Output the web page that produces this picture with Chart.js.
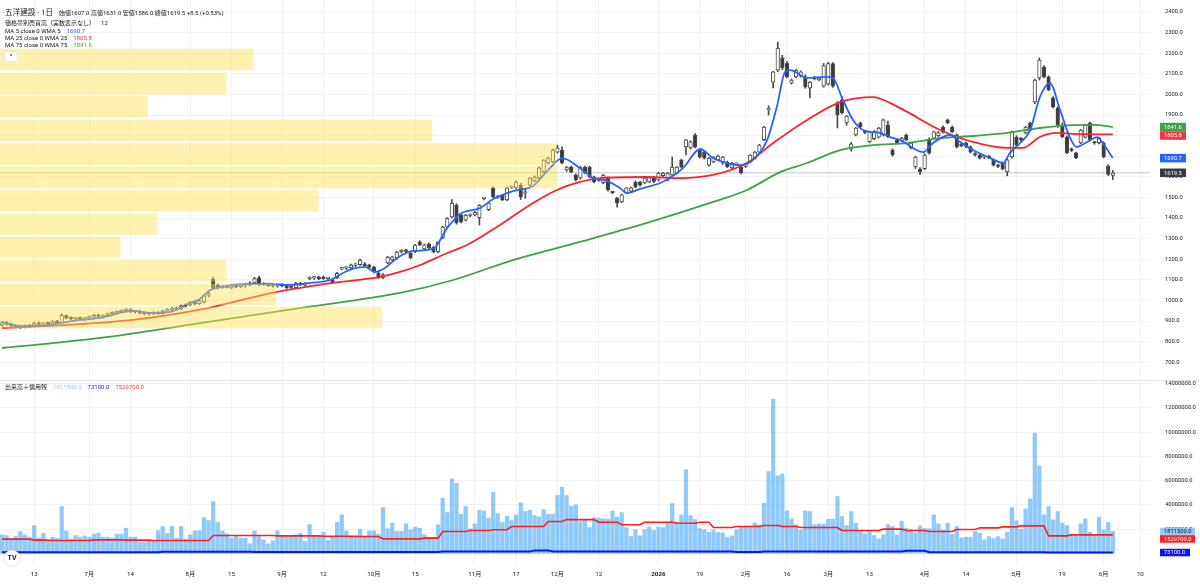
<!DOCTYPE html>
<html lang="ja">
<head>
<meta charset="utf-8">
<script src="https://cdn.jsdelivr.net/npm/chart.js@4.4.1/dist/chart.umd.min.js"></script>
<style>
  html, body { margin: 0; padding: 0; background: #fff; }
  #wrap { position: relative; width: 1200px; height: 584px; overflow: hidden;
          font-family: Roboto, "Noto Sans CJK JP", sans-serif; color: #131722; }
  #main { position: absolute; left: 0; top: 0; }
  #profile { position: absolute; left: 0; top: 0; pointer-events: none; }
  .lg { position: absolute; left: 5px; white-space: nowrap; font-size: 6px; line-height: 8px; }
  .lg .v { margin-left: 6px; }
  #title { font-size: 7.6px; line-height: 9px; margin-right: 6px; }
  #collapse { position: absolute; left: 4px; top: 51px; width: 12px; height: 9px; background: #fff;
              border: 1px solid #e0e3eb; border-radius: 2px; font-size: 7px; line-height: 11px;
              text-align: center; color: #333; }
  #tv { position: absolute; left: 4px; top: 550px; width: 16px; height: 16px; border-radius: 8px; background: #fff;
        box-shadow: 0 0 2px rgba(0,0,0,0.25); font: bold 7px Roboto, sans-serif; line-height: 16px; text-align: center; color: #131722; }
</style>
</head>
<body>
<div id="wrap">
  <canvas id="main" width="1200" height="584"></canvas>
  <canvas id="profile" width="1150" height="380"></canvas>
  <div class="lg" style="top:8px;line-height:9px"><span id="title">五洋建設 · 1日</span><span id="ohlc"></span></div>
  <div class="lg" style="top:19px">価格帯別売買高（実数表示なし）<span class="v">12</span></div>
  <div class="lg" style="top:27px">MA 5 close 0 WMA 5<span class="v" id="v5" style="color:#2962ff"></span></div>
  <div class="lg" style="top:34px">MA 25 close 0 WMA 25<span class="v" id="v25" style="color:#f23645"></span></div>
  <div class="lg" style="top:41px">MA 75 close 0 WMA 75<span class="v" id="v75" style="color:#43a047"></span></div>
  <div id="collapse">^</div>
  <div class="lg" style="top:383px">出来高＋信用残<span class="v" id="vVol" style="color:#90caf9"></span><span class="v" id="vSell" style="color:#1a1aff"></span><span class="v" id="vBuy" style="color:#f23645"></span></div>
  <div id="tv">TV</div>
</div>
<script>
// daily candles, Jun 2025 - Jun 2026 (243 sessions)
const openP = [
  880,892,884,876,870,874,871,880,890,884, 889,886,897,892,928,914,910,913,909,915,
  918,927,922,926,935,940,945,950,955,944, 948,938,936,934,941,935,949,956,962,957,
  974,978,991,984,992,1024,1105,1075,1062,1066, 1060,1072,1067,1070,1074,1085,1109,1077,1080,1072,
  1070,1074,1075,1064,1062,1084,1074,1105,1108,1114, 1112,1106,1100,1110,1152,1156,1158,1170,1174,1178,
  1172,1162,1133,1112,1182,1196,1206,1236,1240,1230, 1236,1284,1250,1274,1258,1236,1304,1357,1405,1462,
  1414,1390,1412,1415,1402,1494,1440,1546,1502,1510, 1488,1548,1546,1560,1520,1560,1580,1594,1624,1667,
  1672,1720,1730,1633,1647,1609,1594,1647,1647,1599, 1582,1572,1594,1526,1497,1478,1522,1530,1575,1575,
  1570,1575,1599,1584,1605,1584,1609,1618,1681,1745, 1740,1803,1730,1720,1657,1672,1682,1667,1672,1643,
  1660,1647,1650,1672,1690,1720,1780,1925,2060,2118, 2177,2152,2055,2085,2088,2085,2030,2080,2070,2040,
  2050,2150,1958,1973,1861,1735,1803,1861,1818,1770, 1785,1793,1803,1851,1730,1779,1776,1803,1740,1648,
  1638,1640,1779,1788,1800,1842,1876,1842,1803,1760, 1764,1745,1710,1706,1695,1700,1681,1652,1667,1624,
  1696,1793,1780,1813,1861,1963,2080,2133,2085,1983, 1934,1851,1793,1732,1716,1764,1793,1861,1766,1766,
  1764,1652,1607
];
const highP = [
  897,898,890,882,880,882,884,895,896,893, 895,902,903,935,930,920,918,920,918,924,
  932,934,930,938,945,948,955,960,960,952, 953,944,942,945,946,952,960,966,968,978,
  983,995,996,1002,1028,1040,1113,1080,1072,1074, 1076,1078,1075,1080,1090,1112,1118,1086,1084,1080,
  1078,1080,1078,1070,1088,1088,1086,1114,1116,1118, 1118,1112,1106,1136,1162,1164,1176,1180,1200,1184,
  1176,1166,1138,1130,1214,1215,1238,1246,1248,1236, 1272,1290,1274,1280,1262,1286,1360,1402,1490,1470,
  1420,1418,1420,1432,1465,1500,1476,1552,1508,1515, 1550,1556,1580,1568,1545,1596,1605,1648,1684,1695,
  1735,1754,1745,1650,1652,1614,1650,1652,1652,1604, 1590,1612,1600,1530,1500,1515,1548,1550,1580,1578,
  1598,1600,1602,1622,1622,1622,1696,1650,1686,1782, 1775,1810,1735,1725,1695,1698,1705,1700,1676,1670,
  1668,1652,1666,1708,1724,1758,1845,1945,2112,2254, 2190,2160,2075,2122,2114,2095,2064,2088,2084,2150,
  2156,2155,1965,1990,1898,1768,1840,1866,1826,1820, 1825,1840,1880,1870,1736,1784,1792,1808,1768,1700,
  1645,1712,1790,1822,1820,1848,1880,1846,1808,1765, 1770,1750,1718,1712,1704,1704,1686,1660,1672,1686,
  1822,1800,1790,1846,1866,2075,2177,2140,2090,1990, 1940,1862,1798,1740,1720,1830,1855,1866,1772,1792,
  1770,1658,1631
];
const lowP = [
  875,880,872,866,864,866,868,876,880,878, 880,882,888,890,910,906,904,905,903,910,
  914,918,915,922,930,933,940,944,940,938, 935,930,928,930,932,933,945,950,952,955,
  966,975,978,980,988,1018,1055,1055,1058,1060, 1057,1062,1062,1064,1070,1082,1072,1072,1068,1064,
  1064,1066,1058,1058,1058,1072,1070,1100,1102,1100, 1102,1100,1082,1106,1148,1150,1154,1164,1170,1165,
  1155,1134,1106,1106,1178,1192,1200,1230,1232,1202, 1232,1265,1245,1250,1230,1230,1300,1352,1400,1370,
  1376,1385,1405,1410,1366,1488,1436,1498,1495,1484, 1484,1544,1540,1490,1495,1555,1575,1590,1620,1662,
  1668,1715,1662,1626,1620,1580,1588,1615,1595,1570, 1578,1566,1530,1518,1453,1474,1518,1526,1546,1555,
  1566,1572,1572,1580,1600,1580,1605,1614,1643,1706, 1735,1740,1690,1686,1652,1668,1678,1660,1645,1638,
  1655,1614,1645,1668,1686,1716,1775,1900,2031,2110, 2120,2080,2050,2080,2084,2030,1983,2070,2066,2035,
  2045,2034,1837,1905,1850,1725,1798,1838,1810,1765, 1780,1788,1798,1790,1700,1760,1770,1775,1735,1640,
  1610,1635,1710,1784,1795,1812,1858,1815,1740,1745, 1742,1716,1700,1686,1688,1688,1652,1644,1634,1605,
  1690,1750,1772,1808,1822,1955,2070,2080,2018,1935, 1840,1790,1712,1722,1688,1760,1788,1775,1758,1760,
  1692,1606,1586
];
const closeP = [
  892,884,876,870,874,871,880,890,884,889, 886,897,892,928,914,910,913,909,915,918,
  927,922,926,935,940,945,950,955,944,948, 938,936,934,941,935,949,956,962,957,974,
  978,991,984,998,1024,1032,1062,1060,1066,1063, 1072,1067,1070,1074,1085,1106,1077,1080,1072,1070,
  1074,1070,1062,1063,1084,1076,1082,1109,1110,1104, 1106,1108,1086,1132,1157,1158,1172,1176,1196,1168,
  1160,1138,1110,1124,1210,1211,1234,1240,1238,1206, 1268,1270,1270,1255,1236,1282,1356,1398,1472,1377,
  1381,1414,1414,1428,1462,1497,1472,1503,1500,1488, 1546,1551,1575,1503,1523,1594,1599,1643,1681,1691,
  1730,1740,1667,1647,1623,1585,1647,1620,1599,1575, 1584,1608,1536,1522,1473,1512,1546,1546,1550,1560,
  1594,1596,1578,1618,1618,1618,1647,1647,1647,1779, 1770,1745,1696,1691,1691,1696,1701,1696,1648,1667,
  1662,1620,1662,1705,1720,1754,1842,1932,2109,2225, 2128,2085,2070,2118,2110,2036,2060,2076,2080,2140,
  2150,2040,1900,1910,1895,1760,1837,1842,1816,1817, 1820,1837,1876,1795,1706,1764,1788,1779,1764,1696,
  1624,1706,1716,1818,1815,1817,1861,1818,1745,1750, 1747,1720,1706,1691,1698,1692,1657,1650,1638,1682,
  1818,1754,1779,1842,1827,2070,2167,2085,2022,1939, 1851,1795,1716,1728,1692,1827,1851,1779,1764,1788,
  1696,1611,1619.5
];
// volume in millions of shares
const volume = [
  1.53,1.48,1.26,1.39,1.81,1.53,1.34,2.30,1.26,1.67, 1.00,1.34,1.26,3.87,1.86,1.18,1.48,1.34,1.45,1.34,
  1.59,1.67,1.34,1.34,1.26,1.59,1.59,2.08,1.34,1.34, 0.90,0.90,0.98,1.07,1.89,2.22,1.64,2.22,1.26,2.22,
  1.18,1.53,1.86,1.89,2.96,2.71,4.28,2.55,1.86,1.61, 1.26,1.48,1.26,1.26,0.79,1.86,1.39,1.12,0.79,1.04,
  1.86,1.39,1.39,1.39,1.53,1.67,0.98,2.38,1.48,1.48, 1.75,1.07,1.39,2.55,3.18,1.86,1.48,1.48,2.00,1.39,
  1.86,1.86,1.59,3.78,2.03,2.49,1.81,1.81,2.44,1.95, 2.17,2.08,1.53,1.34,1.34,2.36,4.55,3.37,6.15,5.78,
  3.23,3.87,2.03,2.44,3.56,3.51,2.91,5.05,3.29,2.55, 3.07,2.71,3.18,4.19,3.45,3.56,3.12,3.01,3.62,3.23,
  3.23,4.77,5.46,4.77,3.89,4.00,2.63,2.82,2.14,2.96, 2.91,2.85,2.82,3.48,2.99,3.37,2.14,1.39,1.97,1.45,
  1.97,2.19,1.89,2.19,2.14,2.55,4.11,2.60,3.18,6.91, 3.12,2.79,2.05,1.95,1.75,1.95,1.73,1.70,1.34,1.45,
  1.95,2.14,2.19,2.19,2.52,2.36,4.14,6.75,12.71,6.39, 6.55,3.51,2.85,2.36,1.94,3.51,3.45,2.36,2.44,2.41,
  2.82,2.82,4.69,3.04,2.30,3.45,2.49,1.81,1.61,1.86, 1.48,1.20,1.53,2.38,2.22,1.53,2.66,2.08,1.97,1.70,
  2.27,2.05,2.03,3.18,2.44,1.92,2.49,1.59,2.22,1.28, 1.34,1.34,1.81,1.67,1.12,1.39,1.23,1.39,1.20,1.75,
  3.78,2.69,2.00,3.67,4.50,9.91,7.22,3.18,3.87,2.77, 3.45,2.49,2.30,1.61,1.53,2.44,2.85,1.75,1.50,2.99,
  1.94,2.55,1.8115
];
// margin balances (millions), [first session, value] weekly steps
const marginBuy = [
  [0,1.18],[7,1.10],[11,1.07],[20,1.12],[27,1.10],[33,1.07],[46,1.48],[60,1.45],[70,1.42],[76,1.39],
  [83,1.20],[92,1.26],[96,1.81],[102,1.89],[107,1.95],[111,2.22],[119,2.63],[123,2.79],[130,2.57],[135,2.36],
  [140,2.57],[147,2.49],[152,2.57],[155,2.14],[160,2.22],[166,2.30],[170,2.22],[174,2.14],[183,1.89],[192,2.00],
  [197,1.89],[202,1.81],[208,1.97],[213,2.11],[218,2.19],[222,2.27],[228,1.45],[233,1.5297]
];
const marginSell = [
  [0,0.10],[35,0.13],[55,0.11],[96,0.15],[116,0.25],[120,0.16],[160,0.12],[166,0.16],[197,0.22],[202,0.10],
  [228,0.08],[233,0.0731]
];
// weighted moving averages, [session, price]
const ma5 = [
  [0,895],[3.9,876],[8.3,876],[12.6,890],[17,905],[21.4,915],[28.5,949],[32.2,939],[36.6,944],[41,988],
  [43.1,1007],[45.3,1050],[47.5,1065],[54,1080],[58.4,1080],[62.7,1075],[67.1,1085],[71.5,1099],[74.7,1138],[76.9,1157],
  [79.1,1162],[81.3,1138],[83.4,1157],[86.1,1206],[89.5,1240],[93.9,1250],[97,1352],[99.8,1420],[104.1,1448],[107,1492],
  [111.3,1531],[115.7,1555],[117.2,1589],[119.4,1643],[122,1691],[125.9,1643],[128.8,1594],[131.8,1580],[134.6,1546],[136.2,1521],
  [139,1541],[143.4,1570],[145.5,1594],[148.4,1643],[152.1,1735],[154.9,1691],[157.9,1667],[160.8,1657],[163.6,1682],[166.7,1779],
  [168.8,1940],[170.6,2109],[171.7,2118],[175.4,2080],[179.7,2085],[181,2080],[183.2,1973],[185.4,1876],[187.6,1827],[191.3,1813],
  [193.5,1793],[195.6,1779],[200.7,1720],[202.8,1764],[206.5,1803],[208.7,1769],[211.5,1730],[215.3,1691],[218.1,1667],[219.6,1716],
  [221.8,1764],[224,1827],[226.1,1987],[228.3,2055],[230.5,1925],[232.6,1793],[234.1,1745],[236.4,1769],[238.6,1793],[239.8,1764],
  [242,1690.7]
];
const ma25 = [
  [0,866],[14.2,881],[28.5,905],[43.1,955],[51,995],[59.9,1041],[72.1,1085],[82.4,1114],[86.7,1138],[91.1,1172],
  [97,1230],[101.3,1269],[108.5,1366],[115.7,1473],[120.9,1536],[125.9,1575],[130.3,1594],[140.5,1599],[147.7,1594],[154.9,1609],
  [162.3,1667],[168,1764],[175.4,1876],[182.6,1963],[189.8,1987],[193.5,1958],[197.2,1915],[204.4,1827],[211.5,1769],[219,1740],
  [222.4,1740],[226.1,1793],[229.8,1813],[233.3,1808],[242,1805.8]
];
const ma75 = [
  [0,769],[21.4,818],[43.1,890],[64.9,963],[86.7,1036],[98.3,1099],[111.3,1196],[125.9,1284],[140.5,1376],[154.9,1478],
  [162.3,1536],[169.5,1623],[175.4,1667],[182.6,1730],[189.8,1754],[197.2,1764],[204.4,1788],[211.5,1798],[219,1813],[226.1,1837],
  [233.3,1851],[238,1852],[242,1841.6]
];
// volume profile: 12 price rows (centre price, relative volume)
const profileLevels = [917, 1030, 1143, 1257, 1371, 1484, 1597, 1710, 1825, 1941, 2053, 2169];
const profileVolume = [58.4, 42.2, 34.6, 18.4, 24.0, 48.7, 85.2, 85.1, 66.1, 22.6, 34.6, 38.7];
// axis ticks
const tickIndex = [7, 19, 28, 41, 50, 61, 70, 81, 90, 103, 112, 121, 130, 143, 152, 162, 171, 180, 189, 201, 210, 221, 231, 240, 248];
const tickText = ['13','7月','14','8月','15','9月','12','10月','15','11月','17','12月','12','2026','19','2月','16','3月','13','4月','14','5月','19','6月','10'];
const priceTicks = [700,800,900,1000,1100,1200,1300,1400,1500,1600,1700,1800,1900,2000,2100,2200,2300,2400];
const volumeTicks = [2,4,6,8,10,12,14];

const FONT = 'Roboto, "Noto Sans CJK JP", sans-serif';
Chart.defaults.font.family = FONT;
Chart.defaults.color = '#131722';

const N = closeP.length;
const idx = closeP.map((_, i) => i);
const last = closeP[N - 1];
const prevClose = closeP[N - 2];
const EDGE = '#4a4a4a';
const GRID = '#f1f2f5';

const pts = arr => arr.map(([x, y]) => ({ x, y }));
function expandSteps(steps) {
    return idx.map(i => {
        let v = steps[0][1];
        for (const [s, val] of steps) if (s <= i) v = val;
        return { x: i, y: v };
    });
}

// legend text
const chg = last - prevClose;
document.getElementById('ohlc').textContent =
    `始値${openP[N-1].toFixed(1)} 高値${highP[N-1].toFixed(1)} 安値${lowP[N-1].toFixed(1)} 終値${last.toFixed(1)} ` +
    `+${chg.toFixed(1)} (+${(chg / prevClose * 100).toFixed(2)}%)`;
document.getElementById('v5').textContent = ma5[ma5.length-1][1].toFixed(1);
document.getElementById('v25').textContent = ma25[ma25.length-1][1].toFixed(1);
document.getElementById('v75').textContent = ma75[ma75.length-1][1].toFixed(1);
document.getElementById('vVol').textContent = (volume[N-1] * 1e6).toFixed(1);
document.getElementById('vSell').textContent = (marginSell[marginSell.length-1][1] * 1e6).toFixed(1);
document.getElementById('vBuy').textContent = (marginBuy[marginBuy.length-1][1] * 1e6).toFixed(1);

function drawBadges(ctx, scale, items, h) {
    let prevBottom = -Infinity;
    items.map(it => ({ ...it, y: scale.getPixelForValue(it.v) }))
        .sort((a, b) => a.y - b.y)
        .forEach(it => {
            const top = Math.max(it.y - h / 2, prevBottom);
            ctx.fillStyle = it.bg;
            ctx.fillRect(1160, top, it.w, h);
            ctx.fillStyle = it.fg;
            ctx.font = '5.8px ' + FONT;
            ctx.textBaseline = 'middle';
            ctx.textAlign = 'left';
            ctx.fillText(it.t, 1164, top + h / 2 + 0.3);
            prevBottom = top + h;
        });
}

const panePlugin = {
    id: 'panes',
    afterDraw(chart) {
        const ctx = chart.ctx;
        const y = chart.scales.y, yv = chart.scales.yv;
        ctx.save();
        ctx.strokeStyle = '#e0e3eb';
        ctx.lineWidth = 1;
        ctx.beginPath();
        ctx.moveTo(0, Math.round(y.bottom) + 0.5);
        ctx.lineTo(1200, Math.round(y.bottom) + 0.5);
        ctx.stroke();
        const m75 = ma75[ma75.length-1][1], m25 = ma25[ma25.length-1][1], m5 = ma5[ma5.length-1][1];
        drawBadges(ctx, y, [
            { v: m75, t: m75.toFixed(1), bg: '#43a047', fg: '#fff', w: 26 },
            { v: m25, t: m25.toFixed(1), bg: '#f23645', fg: '#fff', w: 26 },
            { v: m5, t: m5.toFixed(1), bg: '#2962ff', fg: '#fff', w: 26 },
            { v: last, t: last.toFixed(1), bg: '#363a45', fg: '#fff', w: 26 }
        ], 8.5);
        const vb = marginBuy[marginBuy.length-1][1], vs = marginSell[marginSell.length-1][1];
        drawBadges(ctx, yv, [
            { v: volume[N-1], t: (volume[N-1] * 1e6).toFixed(1), bg: '#90caf9', fg: '#131722', w: 35 },
            { v: vb, t: (vb * 1e6).toFixed(1), bg: '#ff1f1f', fg: '#fff', w: 35 },
            { v: vs, t: (vs * 1e6).toFixed(1), bg: '#1010ff', fg: '#fff', w: 30 }
        ], 7.5);
        ctx.restore();
    }
};

const fitRight = s => { s.width = 50; s.paddingTop = 0; s.paddingBottom = 0; };

new Chart(document.getElementById('main'), {
    data: {
        datasets: [
            { type: 'line', data: [{ x: -0.45, y: last }, { x: 250.1, y: last }], yAxisID: 'y',
              borderColor: '#c4c6cc', borderWidth: 1, pointRadius: 0, order: 10 },
            { type: 'bar', data: idx.map(i => ({ x: i, y: volume[i] })), yAxisID: 'yv',
              backgroundColor: 'rgba(33,150,243,0.5)', barThickness: 3.6, grouped: false, order: 9 },
            { type: 'bar', data: idx.map(i => ({ x: i, y: [lowP[i], highP[i]] })), yAxisID: 'y',
              backgroundColor: EDGE, barThickness: 1, grouped: false, order: 8 },
            { type: 'bar', data: idx.map(i => ({ x: i, y: [openP[i], closeP[i]] })), yAxisID: 'y',
              backgroundColor: idx.map(i => closeP[i] >= openP[i] ? '#ffffff' : '#3b3b3b'),
              borderColor: EDGE, borderWidth: 1, borderSkipped: false, barThickness: 3.6,
              minBarLength: 1.5, grouped: false, order: 7 },
            { type: 'line', data: expandSteps(marginBuy), yAxisID: 'yv',
              borderColor: '#ff1f1f', borderWidth: 1.6, pointRadius: 0, order: 3 },
            { type: 'line', data: expandSteps(marginSell), yAxisID: 'yv',
              borderColor: '#1010ff', borderWidth: 2, pointRadius: 0, order: 3 },
            { type: 'line', data: pts(ma75), yAxisID: 'y', borderColor: '#43a047', borderWidth: 1.8,
              pointRadius: 0, cubicInterpolationMode: 'monotone', order: 2 },
            { type: 'line', data: pts(ma25), yAxisID: 'y', borderColor: '#f7252f', borderWidth: 1.8,
              pointRadius: 0, cubicInterpolationMode: 'monotone', order: 2 },
            { type: 'line', data: pts(ma5), yAxisID: 'y', borderColor: '#2962ff', borderWidth: 1.8,
              pointRadius: 0, cubicInterpolationMode: 'monotone', order: 1 }
        ]
    },
    options: {
        responsive: false,
        animation: false,
        events: [],
        layout: { padding: 0 },
        plugins: { legend: { display: false }, tooltip: { enabled: false } },
        scales: {
            x: {
                type: 'linear', min: -0.45, max: 250.1, offset: false,
                afterBuildTicks: s => { s.ticks = tickIndex.map(v => ({ value: v })); },
                afterFit: s => { s.height = 19; s.paddingLeft = 0; s.paddingRight = 0; },
                ticks: {
                    autoSkip: false, maxRotation: 0, padding: 6,
                    callback: v => tickText[tickIndex.indexOf(v)] ?? '',
                    font: ctx => ({ size: 6.2, weight: ctx.tick && ctx.tick.label === '2026' ? 'bold' : 'normal' })
                },
                grid: { color: GRID, drawTicks: false, offset: false },
                border: { display: false }
            },
            y: {
                type: 'linear', position: 'right', stack: 'panes', stackWeight: 380, weight: 0,
                min: 613.6, max: 2458.3,
                afterBuildTicks: s => { s.ticks = priceTicks.map(v => ({ value: v })); },
                afterFit: fitRight,
                ticks: { padding: 15, font: { size: 5.8 }, callback: v => v.toFixed(1) },
                grid: { color: GRID, drawTicks: false },
                border: { display: false }
            },
            yv: {
                type: 'linear', position: 'right', stack: 'panes', stackWeight: 185, weight: 1,
                min: -0.955, max: 14.3,
                afterBuildTicks: s => { s.ticks = volumeTicks.map(v => ({ value: v })); },
                afterFit: fitRight,
                ticks: { padding: 15, font: { size: 5.8 }, callback: v => (v * 1e6).toFixed(1) },
                grid: { color: GRID, drawTicks: false },
                border: { display: false }
            }
        }
    },
    plugins: [panePlugin]
});

// volume-by-price overlay on the price pane
new Chart(document.getElementById('profile'), {
    type: 'bar',
    data: {
        datasets: [{
            data: profileLevels.map((p, i) => ({ x: profileVolume[i], y: p })),
            backgroundColor: 'rgba(255,226,80,0.45)',
            barThickness: 21,
            borderWidth: 0
        }]
    },
    options: {
        indexAxis: 'y',
        responsive: false,
        animation: false,
        events: [],
        layout: { padding: 0 },
        plugins: { legend: { display: false }, tooltip: { enabled: false } },
        scales: {
            x: { type: 'linear', display: false, min: 0, max: 176 },
            y: { type: 'linear', display: false, min: 613.6, max: 2458.3, offset: false }
        }
    }
});
</script>
</body>
</html>
